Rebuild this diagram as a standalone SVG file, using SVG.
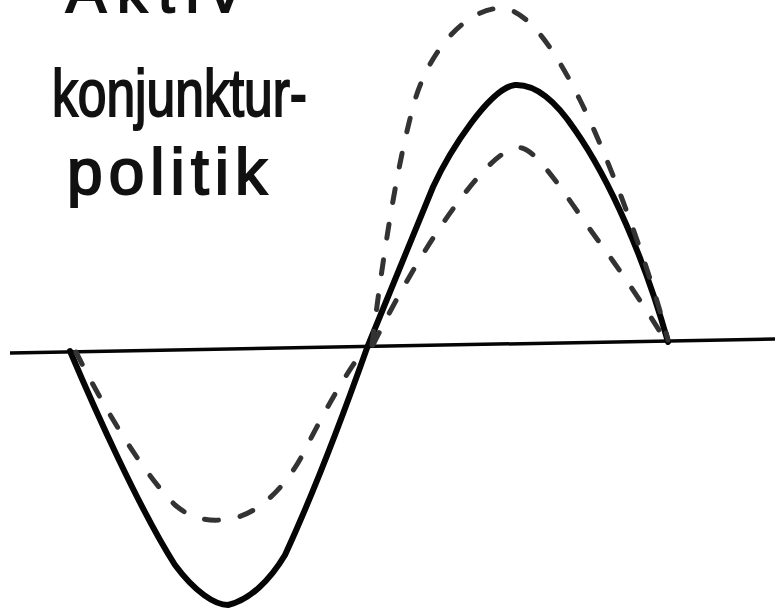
<svg xmlns="http://www.w3.org/2000/svg" width="775" height="614" viewBox="0 0 775 614">
  <style>
    .txt { font-family: "Liberation Sans", Arial, sans-serif; fill: #111; stroke: #111; stroke-width: 2; }
    .solid { fill: none; stroke: #050505; stroke-width: 6; stroke-linecap: round; stroke-linejoin: round; }
    .dash { fill: none; stroke: #333333; stroke-width: 5; stroke-linecap: round; stroke-dasharray: 14 22; }
    .axis { fill: none; stroke: #050505; stroke-width: 3.5; }
  </style>
  <rect width="775" height="614" fill="#ffffff"/>
  <g id="title">
    <text class="txt" x="66" y="12" font-size="60" textLength="174" lengthAdjust="spacing">Aktiv</text>
    <text class="txt" x="52" y="116" font-size="66" textLength="255" lengthAdjust="spacingAndGlyphs">konjunktur-</text>
    <text class="txt" x="67" y="194" font-size="64" textLength="200" lengthAdjust="spacing">politik</text>
  </g>
  <g id="axis">
    <line class="axis" x1="10" y1="353" x2="775" y2="339"/>
  </g>
  <g id="curves">
    <path id="solid-curve" class="solid" d="M 70 351 C 95 410, 140 510, 175 565 C 195 592, 215 605, 228 605 C 250 600, 270 580, 285 555 C 315 490, 345 410, 367 348 C 380 315, 420 220, 433 187 C 450 150, 490 88, 515 85 C 535 84, 555 100, 575 130 C 610 180, 645 260, 668 342"/>
    <path id="dashed-outer" class="dash" d="M 372 345 C 380 280, 395 170, 415 100 C 430 50, 465 10, 500 8 C 530 8, 560 60, 580 100 C 610 160, 650 270, 668 340"/>
    <path id="dashed-inner" class="dash" d="M 373 345 C 400 290, 440 220, 480 175 C 495 158, 510 146, 522 148 C 540 152, 575 210, 600 243 C 625 277, 650 315, 665 340"/>
    <path id="dashed-lower" class="dash" d="M 76 352 C 100 400, 140 470, 175 505 C 195 522, 215 522, 235 518 C 265 510, 290 480, 305 450 C 325 410, 345 375, 365 348"/>
  </g>
</svg>
